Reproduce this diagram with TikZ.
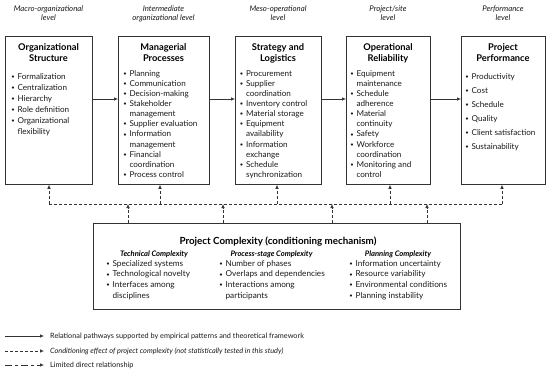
\documentclass[tikz,border=0pt]{standalone}
\usepackage{fontspec}
\setmainfont{Lato}
\usetikzlibrary{arrows.meta}
\newcommand{\blist}[1]{\begin{tabular}[t]{@{}l@{\hspace{3pt}}l@{}}#1\end{tabular}}
\newcommand{\ttl}[1]{\begin{tabular}[t]{@{}c@{}}#1\end{tabular}}
\newcommand{\bu}{\raisebox{0.2ex}{\fontsize{5}{5}\selectfont\bfseries•}}
\begin{document}
\begin{tikzpicture}[x=1pt,y=-1pt,
  box/.style={draw=black!80, line width=0.8pt, inner sep=0pt, anchor=north west},
  hdr/.style={font=\fontsize{7.8}{9}\selectfont\itshape, anchor=base, inner sep=0pt, text=black!90},
  ttlnode/.style={font=\fontsize{9.3}{11}\selectfont\bfseries, anchor=base, inner sep=0pt, text=black},
  lst/.style={font=\fontsize{8.1}{10.15}\selectfont, anchor=base west, inner sep=0pt, text=black!90},
  lstw/.style={font=\fontsize{8.1}{14}\selectfont, anchor=base west, inner sep=0pt, text=black!90},
  lst1/.style={font=\fontsize{8.1}{11}\selectfont, anchor=base west, inner sep=0pt, text=black!90},
  colh/.style={font=\fontsize{7.6}{10}\selectfont\bfseries\itshape, anchor=base, inner sep=0pt, text=black},
  leg/.style={font=\fontsize{7.3}{9}\selectfont, anchor=west, inner sep=0pt, text=black!90},
  solidar/.style={draw=black!80, line width=0.7pt, -{Latex[length=4pt,width=3.6pt]}},
  dsh/.style={draw=black!80, line width=0.7pt, dash pattern=on 3pt off 2pt},
  dshar/.style={dsh, -{Latex[length=4pt,width=3.6pt]}},
  longdsh/.style={draw=black!80, line width=0.7pt, dash pattern=on 7pt off 3pt on 3pt off 3pt, -{Latex[length=4pt,width=3.6pt]}}
]
\useasboundingbox (0,0) rectangle (550,375);

% level headers
\node[hdr] (h1) at (48.5,11.5) {\ttl{Macro-organizational\\level}};
\node[hdr] (h2) at (163.5,11.5) {\ttl{Intermediate\\organizational level}};
\node[hdr] (h3) at (278,11.5) {\ttl{Meso-operational\\level}};
\node[hdr] (h4) at (388,11.5) {\ttl{Project/site\\level}};
\node[hdr] (h5) at (503,11.5) {\ttl{Performance\\level}};

% boxes
\node[box, minimum width=87pt, minimum height=148pt] (b1) at (5,36) {};
\node[box, minimum width=91pt, minimum height=148pt] (b2) at (118,36) {};
\node[box, minimum width=86pt, minimum height=148pt] (b3) at (235,36) {};
\node[box, minimum width=84pt, minimum height=148pt] (b4) at (346,36) {};
\node[box, minimum width=84pt, minimum height=148pt] (b5) at (461,36) {};

% titles
\node[ttlnode] (t1) at (48.5,50.5) {\ttl{Organizational\\Structure}};
\node[ttlnode] (t2) at (163.5,50.5) {\ttl{Managerial\\Processes}};
\node[ttlnode] (t3) at (278,50.5) {\ttl{Strategy and\\Logistics}};
\node[ttlnode] (t4) at (388,50.5) {\ttl{Operational\\Reliability}};
\node[ttlnode] (t5) at (503,50.5) {\ttl{Project\\Performance}};

% lists
\node[lst1] (l1) at (11.5,79) {\blist{\bu & Formalization\\ \bu & Centralization\\ \bu & Hierarchy\\ \bu & Role definition\\ \bu & Organizational\\ & flexibility}};
\node[lst] (l2) at (123.5,76) {\blist{\bu & Planning\\ \bu & Communication\\ \bu & Decision-making\\ \bu & Stakeholder\\ & management\\ \bu & Supplier evaluation\\ \bu & Information\\ & management\\ \bu & Financial\\ & coordination\\ \bu & Process control}};
\node[lst] (l3) at (240,76) {\blist{\bu & Procurement\\ \bu & Supplier\\ & coordination\\ \bu & Inventory control\\ \bu & Material storage\\ \bu & Equipment\\ & availability\\ \bu & Information\\ & exchange\\ \bu & Schedule\\ & synchronization}};
\node[lst] (l4) at (350.5,76) {\blist{\bu & Equipment\\ & maintenance\\ \bu & Schedule\\ & adherence\\ \bu & Material\\ & continuity\\ \bu & Safety\\ \bu & Workforce\\ & coordination\\ \bu & Monitoring and\\ & control}};
\node[lstw] (l5) at (465.5,79) {\blist{\bu & Productivity\\ \bu & Cost\\ \bu & Schedule\\ \bu & Quality\\ \bu & Client satisfaction\\ \bu & Sustainability}};

% horizontal arrows
\coordinate (ar) at (0,99);
\draw[solidar] (b1.east |- ar) -- (b2.west |- ar);
\draw[solidar] (b2.east |- ar) -- (b3.west |- ar);
\draw[solidar] (b3.east |- ar) -- (b4.west |- ar);
\draw[solidar] (b4.east |- ar) -- (b5.west |- ar);

% complexity box
\node[box, minimum width=367pt, minimum height=86pt] (cb) at (93,223) {};
\node[ttlnode, font=\fontsize{9.8}{11}\selectfont\bfseries] (ct) at (278,244.5) {Project Complexity (conditioning mechanism)};
\node[colh] (c1) at (154,256.5) {Technical Complexity};
\node[colh] (c2) at (271.5,256.5) {Process-stage Complexity};
\node[colh] (c3) at (398,256.5) {Planning Complexity};
\node[lst1, font=\fontsize{8.2}{10.9}\selectfont] (cl1) at (106.5,266) {\blist{\bu & Specialized systems\\ \bu & Technological novelty\\ \bu & Interfaces among\\ & disciplines}};
\node[lst1, font=\fontsize{8.2}{10.9}\selectfont] (cl2) at (219.5,266) {\blist{\bu & Number of phases\\ \bu & Overlaps and dependencies\\ \bu & Interactions among\\ & participants}};
\node[lst1, font=\fontsize{8.2}{10.9}\selectfont] (cl3) at (349.5,266) {\blist{\bu & Information uncertainty\\ \bu & Resource variability\\ \bu & Environmental conditions\\ \bu & Planning instability}};

% dashed conditioning network
\coordinate (hl) at (0,204);
\coordinate (d1) at (49,204);
\coordinate (d2) at (160,204);
\coordinate (d3) at (277,204);
\coordinate (d4) at (390,204);
\coordinate (d5) at (502,204);
\draw[dsh] (d1) -- (d5);
\draw[dshar] (d1) -- (d1 |- b1.south);
\draw[dshar] (d2) -- (d2 |- b2.south);
\draw[dshar] (d3) -- (d3 |- b3.south);
\draw[dshar] (d4) -- (d4 |- b4.south);
\draw[dshar] (d5) -- (d5 |- b5.south);
\coordinate (u1) at (128,223);
\coordinate (u2) at (223,223);
\coordinate (u3) at (332,223);
\coordinate (u4) at (427,223);
\draw[dshar] (u1 |- cb.north) -- (u1 |- hl);
\draw[dshar] (u2 |- cb.north) -- (u2 |- hl);
\draw[dshar] (u3 |- cb.north) -- (u3 |- hl);
\draw[dshar] (u4 |- cb.north) -- (u4 |- hl);

% legend
\coordinate (la1) at (5,336); \coordinate (lb1) at (44,336);
\coordinate (la2) at (5,351); \coordinate (lb2) at (44,351);
\coordinate (la3) at (5,365); \coordinate (lb3) at (44,365);
\draw[solidar] (la1) -- (lb1);
\draw[dshar] (la2) -- (lb2);
\draw[longdsh] (la3) -- (lb3);
\node[leg] (g1) at (50,336) {Relational pathways supported by empirical patterns and theoretical framework};
\node[leg, font=\fontsize{7.3}{9}\selectfont\itshape] (g2) at (50,351) {Conditioning effect of project complexity (not statistically tested in this study)};
\node[leg] (g3) at (50,365) {Limited direct relationship};
\end{tikzpicture}
\end{document}
